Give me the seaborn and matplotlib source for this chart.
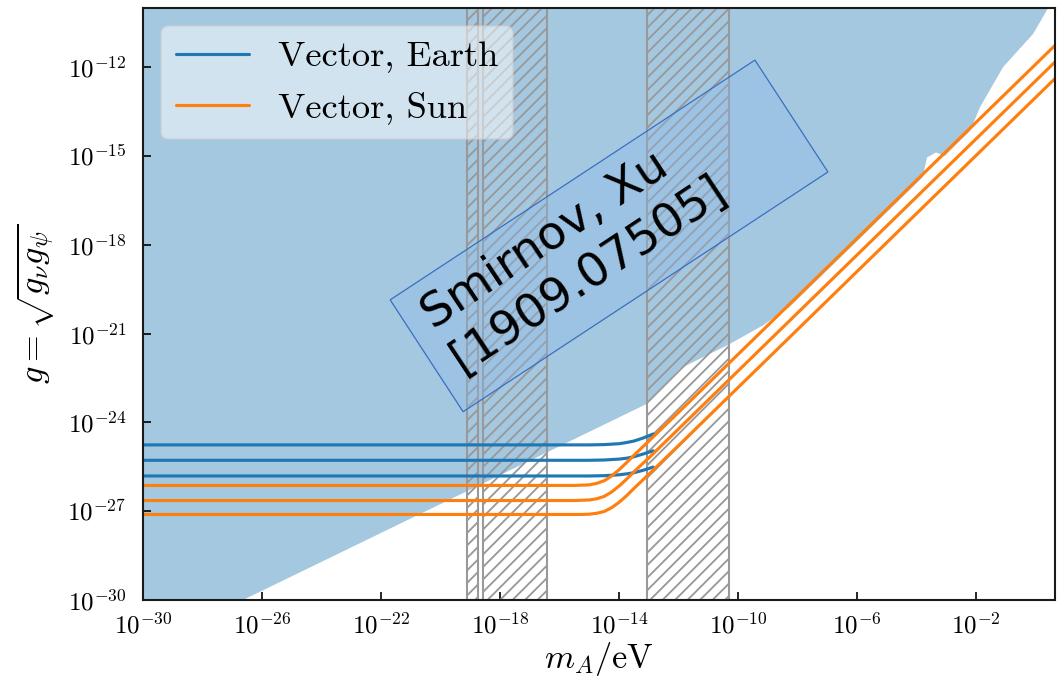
import numpy as np
import pandas as pd
import seaborn as sns
import matplotlib.pyplot as plt
from matplotlib.patches import Polygon

# all values are log10
m_earth = [-30, -15.0, -14.5, -14.0, -13.75, -13.5, -13.2, -12.85]
g_earth_1 = [-24.76, -24.76, -24.75, -24.72, -24.68, -24.63, -24.53, -24.39]
g_earth_2 = [-25.28, -25.28, -25.27, -25.24, -25.21, -25.16, -25.07, -24.96]
g_earth_3 = [-25.81, -25.81, -25.80, -25.77, -25.74, -25.70, -25.62, -25.51]

m_sun = [-30, -15.5, -15.25, -15.0, -14.75, -14.5, -14.25, -14.0, -13.75, -13.5, -13.25, -13.0, -12.0, 1.0]
g_sun_1 = [-26.13, -26.13, -26.12, -26.11, -26.06, -25.97, -25.81, -25.60, -25.36, -25.11, -24.87, -24.63, -23.66, -10.92]
g_sun_2 = [-26.64, -26.64, -26.63, -26.62, -26.58, -26.50, -26.35, -26.15, -25.92, -25.67, -25.43, -25.20, -24.22, -11.48]
g_sun_3 = [-27.11, -27.11, -27.11, -27.10, -27.07, -27.01, -26.88, -26.70, -26.48, -26.23, -25.99, -25.75, -24.78, -12.04]

# excluded region (Smirnov, Xu)
excl_m = [-30, -30, -26.64, -13.06, -11.95, -10.37, -9.16, -8.25, -6.0, -4.4, -3.8,
          -3.65, -3.35, -3.05, -2.8, -2.2, -1.87, -1.09, -0.08, 0.39, 0.7, 0.7]
excl_g = [-10, -30, -30, -23.37, -22.18, -21.40, -20.72, -20.08, -17.88, -16.31, -15.72,
          -15.05, -14.88, -15.0, -14.74, -14.15, -13.35, -11.99, -10.87, -10.05, -9.5, -10]

# hatched mass windows
bands = [(-19.11, -18.74), (-18.57, -16.42), (-13.06, -10.30)]

curves = []
for i, g in enumerate([g_earth_1, g_earth_2, g_earth_3]):
    curves.append(pd.DataFrame({"m": 10.0 ** np.array(m_earth), "g": 10.0 ** np.array(g),
                                "label": "Vector, Earth", "curve": f"e{i}"}))
for i, g in enumerate([g_sun_1, g_sun_2, g_sun_3]):
    curves.append(pd.DataFrame({"m": 10.0 ** np.array(m_sun), "g": 10.0 ** np.array(g),
                                "label": "Vector, Sun", "curve": f"s{i}"}))
df = pd.concat(curves, ignore_index=True)

sns.set_theme(style="ticks")
plt.rcParams.update({
    "font.family": "serif",
    "font.serif": ["cmr10"],
    "mathtext.fontset": "cm",
    "axes.formatter.use_mathtext": True,
    "axes.unicode_minus": False,
    "hatch.linewidth": 0.9,
    "text.color": "black",
    "axes.labelcolor": "black",
    "xtick.color": "black",
    "ytick.color": "black",
})

fig = plt.figure(figsize=(1061 / 150, 681 / 150), dpi=150)
ax = fig.add_axes([143 / 1061, 1 - 600 / 681, 912 / 1061, 592 / 681])
ax.set_xscale("log")
ax.set_yscale("log")

ax.fill(10.0 ** np.array(excl_m), 10.0 ** np.array(excl_g), color="#1f77b4", alpha=0.4, lw=0, zorder=0.5)

for lo, hi in bands:
    ax.axvspan(10.0 ** lo, 10.0 ** hi, facecolor="none", edgecolor="0.6", hatch="////", lw=1.0, zorder=1)

sns.lineplot(data=df, x="m", y="g", hue="label", units="curve", estimator=None, sort=False,
             palette={"Vector, Earth": "#1f77b4", "Vector, Sun": "#ff7f0e"},
             lw=1.5, ax=ax, zorder=2)

ax.set_xlim(1e-30, 10 ** 0.65)
ax.set_ylim(1e-30, 1e-10)
ax.set_xticks(10.0 ** np.arange(-30, 1, 4))
ax.set_yticks(10.0 ** np.arange(-30, -11, 3))
ax.minorticks_off()
ax.tick_params(direction="in", length=4, width=0.8, labelsize=12, color="black")
ax.tick_params(axis="x", pad=6)
ax.tick_params(axis="y", pad=8)
for s in ax.spines.values():
    s.set_linewidth(1.0)
    s.set_color("0.1")

ax.set_xlabel(r"$m_A/\mathrm{eV}$", fontsize=16.5, labelpad=1)
ax.set_ylabel(r"$g=\sqrt{g_\nu g_\psi}$", fontsize=16.5, labelpad=5)

handles, labels = ax.get_legend_handles_labels()
leg = ax.legend(handles, labels, loc="upper left", fontsize=17.5, framealpha=0.5, fancybox=True)
leg.set_zorder(5)

# rotated note box
box = Polygon([(0.271, 0.507), (0.671, 0.912), (0.751, 0.723), (0.351, 0.318)], closed=True,
              transform=ax.transAxes, facecolor=(0.55, 0.72, 0.92, 0.3), edgecolor="#3a6fc0",
              lw=0.6, zorder=3)
ax.add_patch(box)
ax.text(0.297, 0.505, "Smirnov, Xu\n[1909.07505]", transform=ax.transAxes, rotation=33.5,
        rotation_mode="anchor", ha="left", va="top", fontsize=22.5, family="DejaVu Sans",
        color="black", linespacing=1.2, zorder=4)

fig.savefig("out.png", dpi=150)
